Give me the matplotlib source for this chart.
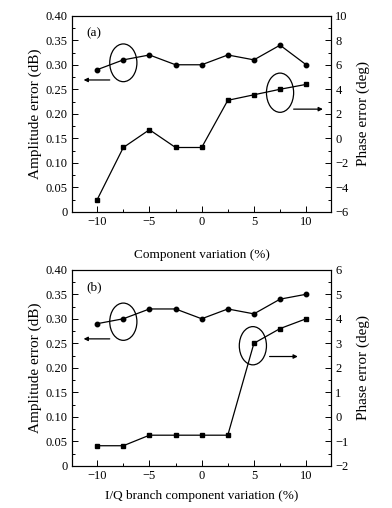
import matplotlib.pyplot as plt
from matplotlib.patches import Ellipse
from matplotlib.ticker import MultipleLocator, FuncFormatter

plt.rcParams['font.family'] = ['Liberation Serif', 'DejaVu Serif']
plt.rcParams['font.size'] = 9

variation = [-10, -7.5, -5, -2.5, 0, 2.5, 5, 7.5, 10]

amp_a = [0.29, 0.31, 0.32, 0.30, 0.30, 0.32, 0.31, 0.34, 0.30]
phase_a = [-5.0, -0.75, 0.7, -0.75, -0.75, 3.1, 3.55, 4.0, 4.4]

amp_b = [0.29, 0.30, 0.32, 0.32, 0.30, 0.32, 0.31, 0.34, 0.35]
phase_b = [-1.18, -1.18, -0.75, -0.75, -0.75, -0.75, 3.0, 3.6, 4.0]

xlabels = ["Component variation (%)", "I/Q branch component variation (%)"]
panel_tags = ["(a)", "(b)"]
phase_lims = [(-6, 10), (-2, 6)]
phase_steps = [(2, 1), (1, 0.5)]


def amp_fmt(v, pos):
    if abs(v) < 1e-9:
        return "0"
    return "%.2f" % v


fig = plt.figure(figsize=(3.92, 5.08), dpi=100)
boxes = [[0.184, 0.583, 0.661, 0.386], [0.184, 0.083, 0.661, 0.386]]
xlabel_pads = [15, 6]

# annotation stuff: ellipse centers, arrows (in amplitude axis data coords)
ell_specs = [
    [(-7.5, 0.304, 2.6, 0.077), (7.5, 0.243, 2.6, 0.080)],
    [(-7.5, 0.294, 2.6, 0.076), (4.9, 0.245, 2.6, 0.078)],
]
arrow_specs = [
    [((-8.8, 0.269), (-11.3, 0.269)), ((8.8, 0.2095), (11.6, 0.2095))],
    [((-8.8, 0.259), (-11.3, 0.259)), ((6.5, 0.223), (9.2, 0.223))],
]

for i in range(2):
    ax = fig.add_axes(boxes[i])
    ax2 = ax.twinx()

    ax.plot(variation, amp_a if i == 0 else amp_b, '-o',
            color='black', ms=3.2, lw=0.9)
    ax2.plot(variation, phase_a if i == 0 else phase_b, '-s',
             color='black', ms=3.2, lw=0.9)

    ax.set_xlim(-12.4, 12.4)
    ax.set_ylim(0, 0.40)
    ax2.set_ylim(*phase_lims[i])

    ax.xaxis.set_major_locator(MultipleLocator(5))
    ax.xaxis.set_minor_locator(MultipleLocator(2.5))
    ax.yaxis.set_major_locator(MultipleLocator(0.05))
    ax.yaxis.set_minor_locator(MultipleLocator(0.025))
    ax.yaxis.set_major_formatter(FuncFormatter(amp_fmt))
    ax2.yaxis.set_major_locator(MultipleLocator(phase_steps[i][0]))
    ax2.yaxis.set_minor_locator(MultipleLocator(phase_steps[i][1]))

    for a in (ax, ax2):
        a.tick_params(which='both', direction='in', top=False, width=0.7,
                      labelsize=9, pad=3)
        a.tick_params(which='major', length=4)
        a.tick_params(which='minor', length=2)
        for s in a.spines.values():
            s.set_linewidth(0.8)

    ax.set_xlabel(xlabels[i], fontsize=9.5, labelpad=xlabel_pads[i])
    ax.set_ylabel("Amplitude error (dB)", fontsize=11, labelpad=3)
    ax2.set_ylabel("Phase error (deg)", fontsize=11, labelpad=6)

    ax.text(-11.05, 0.364, panel_tags[i], fontsize=9.5, va='center', ha='left')

    for (cx, cy, w, h) in ell_specs[i]:
        ax.add_patch(Ellipse((cx, cy), w, h, fill=False, ec='black', lw=0.9))
    for (start, end) in arrow_specs[i]:
        ax.annotate("", xy=end, xytext=start,
                    arrowprops=dict(arrowstyle='-|>', color='black', lw=0.9,
                                    mutation_scale=6, shrinkA=0, shrinkB=0))

fig.savefig("out.png", dpi=100)
